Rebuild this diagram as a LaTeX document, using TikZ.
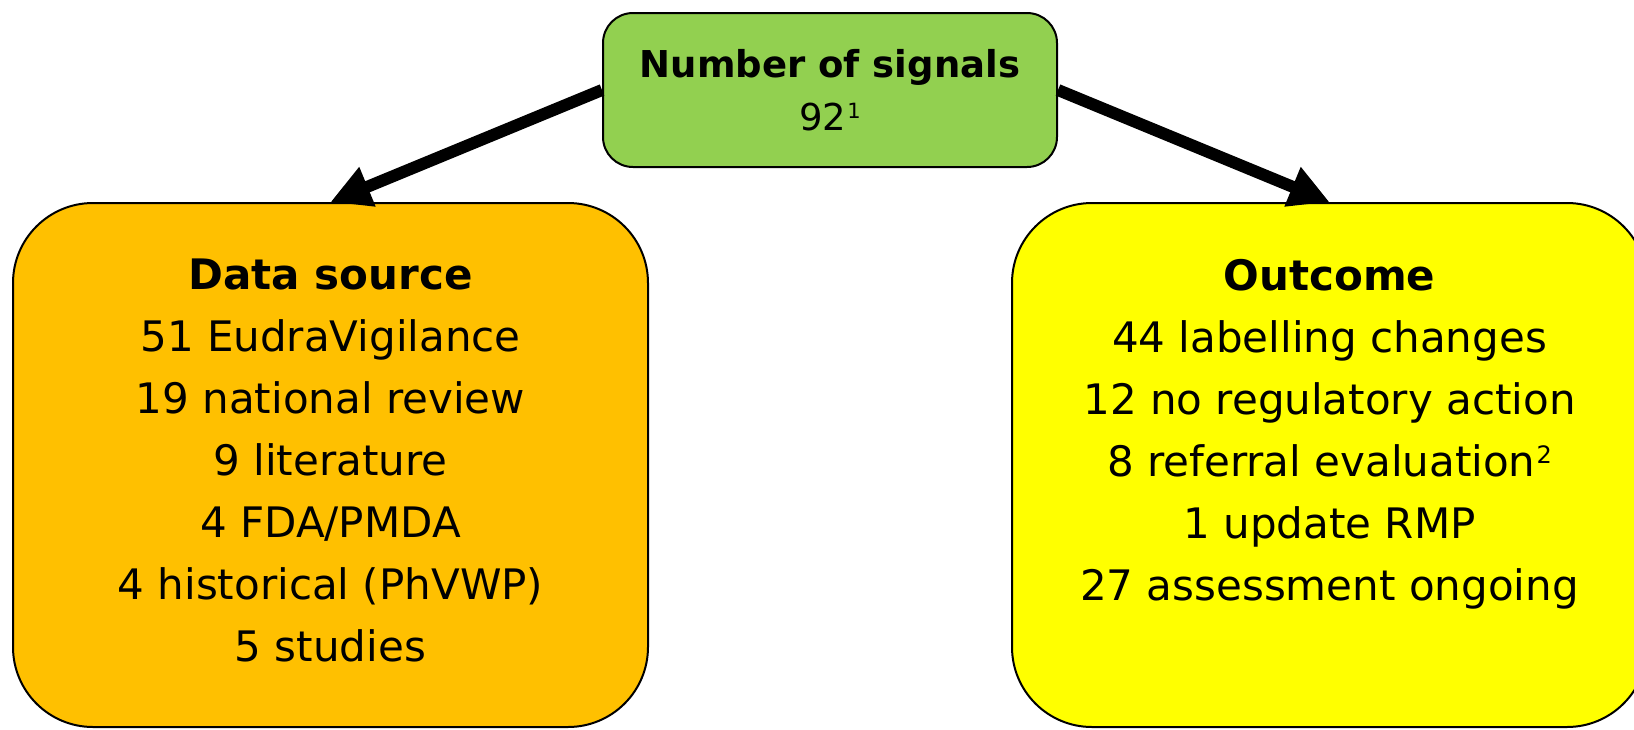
\documentclass[tikz,border=0pt]{standalone}
\usepackage{fontspec}
\setmainfont{DejaVu Sans}
\usetikzlibrary{arrows.meta}
\definecolor{sigGreen}{HTML}{92D050}
\definecolor{srcOrange}{HTML}{FFC000}
\definecolor{outYellow}{HTML}{FFFF00}
\newcommand\supdigit[3]{\kern1pt\raisebox{#3}{\fontsize{#2}{#2}\selectfont #1}}
\begin{document}
\begin{tikzpicture}[x=1pt,y=-1pt,
  boxstyle/.style={draw=black, line width=2pt, inner sep=0pt},
  bigtext/.style={font=\fontsize{42}{62}\selectfont, align=center, anchor=north, inner sep=0pt},
  toptext/.style={font=\fontsize{37}{53}\selectfont, align=center, anchor=north, inner sep=0pt},
  bigarrow/.style={line width=12pt, -{Triangle[length=40pt,width=40pt]}}]
\useasboundingbox (0,0) rectangle (1634,729);
\node[boxstyle, fill=srcOrange, rounded corners=80pt, minimum width=635pt, minimum height=524pt] (src) at (330.5,465) {};
\node[boxstyle, fill=outYellow, rounded corners=80pt, minimum width=635pt, minimum height=524pt] (out) at (1329.5,465) {};
\node[boxstyle, fill=sigGreen, rounded corners=30pt, minimum width=454pt, minimum height=154pt] (sig) at (830,90) {};
\node[toptext] (sigtext) at (830,49) {\textbf{Number of signals}\\92\supdigit{1}{21}{11.5pt}};
\node[bigtext] (srctext) at (330.5,259) {\textbf{Data source}\\51 EudraVigilance\\19 national review\\9 literature\\4 FDA/PMDA\\4 historical (PhVWP)\\5 studies};
\node[bigtext] (outtext) at (1329.5,259) {\textbf{Outcome}\\44 labelling changes\\12 no regulatory action\\8 referral evaluation\supdigit{2}{24}{13pt}\\1 update RMP\\27 assessment ongoing};
\draw[bigarrow] (sig.west) -- (src.north);
\draw[bigarrow] (sig.east) -- (out.north);
\end{tikzpicture}
\end{document}
